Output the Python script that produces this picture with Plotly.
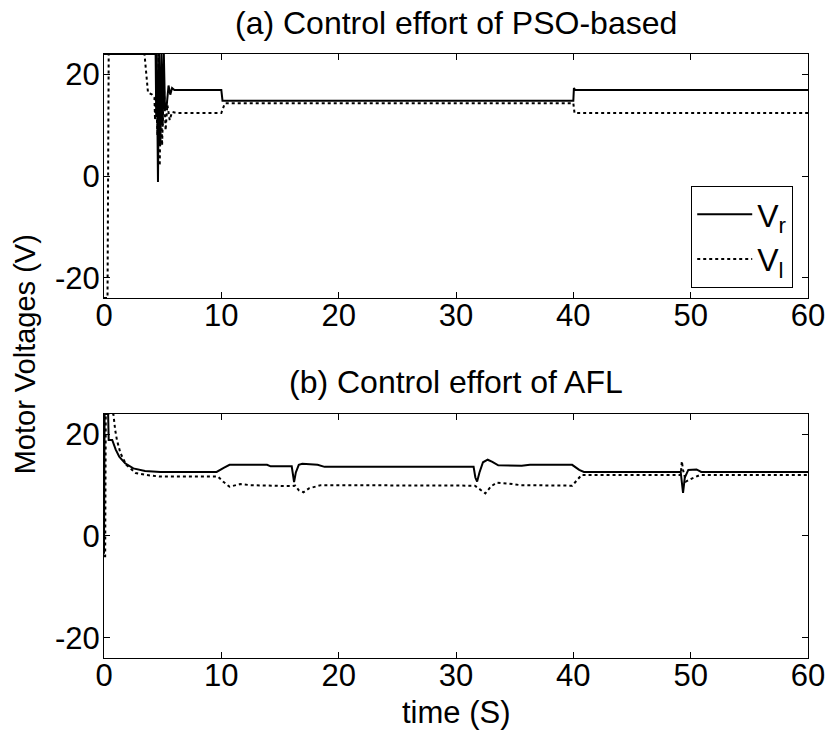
import plotly.graph_objects as go

# ---------------- data ----------------
# (a) PSO-based
t_pso_r = [0, 4.4, 4.45, 4.5, 4.6, 4.7, 4.8, 4.9, 5.0, 5.1, 5.2, 5.35, 5.5, 5.65, 5.8, 6.0,
           10.0, 10.1, 40.0, 40.05, 40.15, 60]
v_pso_r = [24, 24, 12, 24, -1.2, 24, 6, 24, 10, 24, 13, 14, 17.8, 16.0, 17.3, 16.9,
           16.9, 14.8, 14.8, 17.3, 16.9, 16.9]

t_pso_l = [0, 0.3, 0.4, 3.45, 3.75, 4.1, 4.3, 4.35, 4.45, 4.55, 4.65, 4.75, 4.85, 4.95, 5.1,
           5.25, 5.4, 5.6, 5.8, 6.2, 10.0, 10.3, 40.0, 40.1, 60]
v_pso_l = [-24, -24, 24, 24, 16.4, 16.0, 15.5, 11, 17, 8, 24, 2, 20, 6, 18,
           9, 14, 11, 12.6, 12.4, 12.4, 14.3, 14.3, 12.4, 12.4]

# (b) AFL
t_afl_r = [0, 0.05, 0.35, 0.4, 0.7, 0.8, 1.0, 1.3, 1.8, 2.5, 3.5, 4.8, 9.6, 10.2, 10.7,
           13.9, 14.2, 16.0, 16.1, 16.2, 16.35, 16.6, 16.9, 18.2, 18.8, 31.5, 31.65, 31.8,
           32.0, 32.3, 32.7, 33.1, 33.6, 35.0, 35.6, 36.3, 39.9, 40.5, 40.9, 49.15, 49.25,
           49.35, 49.5, 49.8, 50.5, 50.9, 60]
v_afl_r = [-3.5, 24, 24, 18.9, 18.9, 18.2, 17.0, 15.6, 14.3, 13.3, 12.8, 12.6, 12.6, 13.4, 14.0,
           14.0, 13.7, 13.7, 12.5, 10.6, 12.5, 14.0, 14.2, 14.0, 13.6, 13.6, 11.5, 10.7,
           12.5, 14.5, 15.0, 14.6, 13.9, 13.9, 13.8, 14.0, 14.0, 13.0, 12.6, 12.6, 10.5,
           8.5, 11.5, 13.0, 13.1, 12.6, 12.6]

t_afl_l = [0, 0.1, 0.15, 0.8, 0.95, 1.1, 1.4, 1.9, 2.7, 3.6, 4.7, 9.7, 10.2, 10.7, 11.6, 12.5,
           16.0, 16.3, 16.6, 17.0, 17.5, 18.5, 31.6, 32.0, 32.5, 33.0, 33.5, 34.5, 35.5,
           39.9, 40.3, 40.7, 49.15, 49.25, 49.35, 49.6, 50.0, 50.4, 50.8, 60]
v_afl_l = [-4, -4, 24, 24, 20.9, 18.9, 16.3, 14.0, 12.4, 12.0, 11.7, 11.7, 10.6, 9.7, 10.2, 10.0,
           9.8, 9.9, 9.0, 8.6, 9.4, 10.0, 9.9, 9.2, 8.4, 9.8, 10.5, 10.3, 10.0,
           9.9, 11.0, 12.0, 12.0, 14.7, 13.0, 10.7, 11.2, 11.6, 12.0, 12.0]

x_ticks = [0, 10, 20, 30, 40, 50, 60]
y_ticks = [-20, 0, 20]
y_ticktext = ["-20", "0", "20"]

titles = ["(a) Control effort of PSO-based", "(b) Control effort of AFL"]
names = ["V<sub>r</sub>", "V<sub>l</sub>"]

FONT = "Liberation Sans, Arial, sans-serif"
FS = 31

fig = go.Figure()
fig.add_trace(go.Scatter(x=t_pso_r, y=v_pso_r, mode="lines", name=names[0],
                         line=dict(color="black", width=2), xaxis="x", yaxis="y"))
fig.add_trace(go.Scatter(x=t_pso_l, y=v_pso_l, mode="lines", name=names[1],
                         line=dict(color="black", width=2, dash="dot"), xaxis="x", yaxis="y"))
fig.add_trace(go.Scatter(x=t_afl_r, y=v_afl_r, mode="lines", showlegend=False,
                         line=dict(color="black", width=2), xaxis="x2", yaxis="y2"))
fig.add_trace(go.Scatter(x=t_afl_l, y=v_afl_l, mode="lines", showlegend=False,
                         line=dict(color="black", width=2, dash="dot"), xaxis="x2", yaxis="y2"))

ax = dict(showline=True, linecolor="black", linewidth=1, mirror="ticks",
          ticks="inside", ticklen=6, tickcolor="black", tickwidth=1,
          showgrid=False, zeroline=False, automargin=False,
          tickfont=dict(family=FONT, size=FS, color="black"))

fig.update_layout(
    width=828, height=732,
    margin=dict(l=104, r=20, t=54, b=74),
    paper_bgcolor="white", plot_bgcolor="white",
    font=dict(family=FONT, size=FS, color="black"),
    xaxis=dict(ax, domain=[0, 1], range=[0, 60], tickvals=x_ticks, anchor="y",
               ticklabelstandoff=-10),
    yaxis=dict(ax, domain=[0.596, 1], range=[-24, 24], tickvals=y_ticks,
               ticktext=y_ticktext, anchor="x", ticklabelstandoff=-3),
    xaxis2=dict(ax, domain=[0, 1], range=[0, 60], tickvals=x_ticks, anchor="y2",
                ticklabelstandoff=-10),
    yaxis2=dict(ax, domain=[0, 0.404], range=[-24, 24], tickvals=y_ticks,
                ticktext=y_ticktext, anchor="x2", ticklabelstandoff=-3),
    legend=dict(x=0.979, xanchor="right", y=0.6126, yanchor="bottom",
                bordercolor="black", borderwidth=1, bgcolor="white", itemwidth=55,
                font=dict(family=FONT, size=32, color="black")),
    showlegend=True,
    annotations=[
        dict(text=titles[0], x=0.5, y=1.052, xref="paper", yref="paper",
             xanchor="center", yanchor="middle", showarrow=False,
             font=dict(family=FONT, size=32)),
        dict(text=titles[1], x=0.5, y=0.457, xref="paper", yref="paper",
             xanchor="center", yanchor="middle", showarrow=False,
             font=dict(family=FONT, size=32)),
        dict(text="time (S)", x=0.5, y=-0.091, xref="paper", yref="paper",
             xanchor="center", yanchor="middle", showarrow=False,
             font=dict(family=FONT, size=FS)),
        dict(text="Motor Voltages (V)", x=-0.112, y=0.503, xref="paper", yref="paper",
             xanchor="center", yanchor="middle", showarrow=False, textangle=-90,
             font=dict(family=FONT, size=29)),
    ],
)

fig.write_html("out.html", config={"displayModeBar": False},
               post_script="document.body.style.margin='0';document.body.style.padding='0';")
